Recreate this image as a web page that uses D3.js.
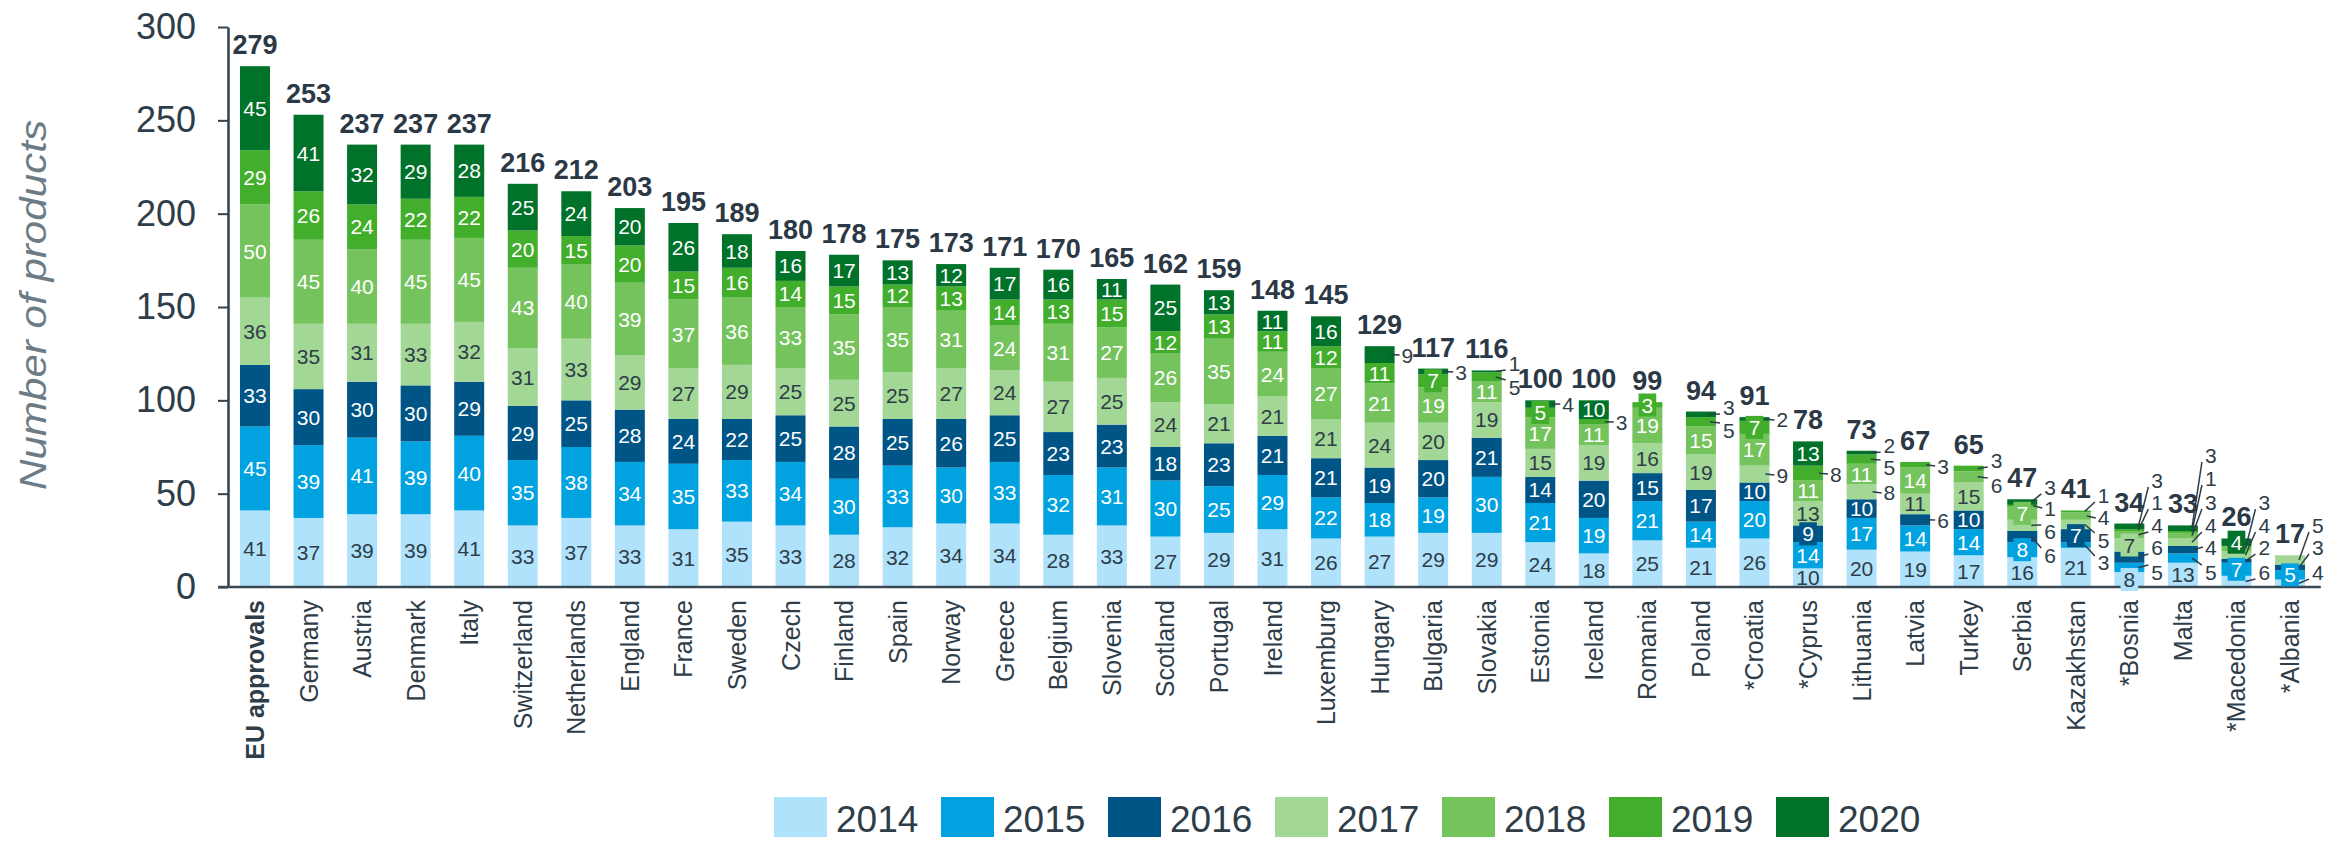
<!DOCTYPE html>
<html>
<head>
<meta charset="utf-8">
<script src="https://cdn.jsdelivr.net/npm/d3@7"></script>
<style>
  html, body { margin: 0; padding: 0; background: #ffffff; }
  svg { display: block; font-family: "Liberation Sans", Arial, sans-serif; }
</style>
</head>
<body>
<svg id="chart" width="2341" height="842"></svg>
<script>
// ---------------- DATA ----------------
const categories = ["EU approvals","Germany","Austria","Denmark","Italy","Switzerland","Netherlands","England","France","Sweden","Czech","Finland","Spain","Norway","Greece","Belgium","Slovenia","Scotland","Portugal","Ireland","Luxemburg","Hungary","Bulgaria","Slovakia","Estonia","Iceland","Romania","Poland","*Croatia","*Cyprus","Lithuania","Latvia","Turkey","Serbia","Kazakhstan","*Bosnia","Malta","*Macedonia","*Albania"];
const years = ["2014","2015","2016","2017","2018","2019","2020"];
const v2014 = [41,37,39,39,41,33,37,33,31,35,33,28,32,34,34,28,33,27,29,31,26,27,29,29,24,18,25,21,26,10,20,19,17,16,21,8,13,6,4];
const v2015 = [45,39,41,39,40,35,38,34,35,33,34,30,33,30,33,32,31,30,25,29,22,18,19,30,21,19,21,14,20,14,17,14,14,8,3,5,5,7,5];
const v2016 = [33,30,30,30,29,29,25,28,24,22,25,28,25,26,25,23,23,18,23,21,21,19,20,21,14,20,15,17,10,9,10,6,10,6,7,6,4,2,3];
const v2017 = [36,35,31,33,32,31,33,29,27,29,25,25,25,27,24,27,25,24,21,21,21,24,20,19,15,19,16,19,9,13,8,11,15,6,5,7,4,4,5];
const v2018 = [50,45,40,45,45,43,40,39,37,36,33,35,35,31,24,31,27,26,35,24,27,21,19,11,17,11,19,15,17,11,11,14,6,7,4,4,3,3,0];
const v2019 = [29,26,24,22,22,20,15,20,15,16,14,15,12,13,14,13,15,12,13,11,12,11,7,5,5,3,3,5,7,8,5,3,3,1,1,1,1,0,0];
const v2020 = [45,41,32,29,28,25,24,20,26,18,16,17,13,12,17,16,11,25,13,11,16,9,3,1,4,10,0,3,2,13,2,0,0,3,0,3,3,4,0];
const yTicks = [0,50,100,150,200,250,300];
const yTitle = "Number of products";

// small values drawn inside the bar on a coloured label box
const boxedLabels = [["Bulgaria","2019"],["Estonia","2019"],["Romania","2019"],["*Croatia","2019"],["*Cyprus","2016"],["Serbia","2015"],["Serbia","2018"],["Kazakhstan","2016"],["*Bosnia","2014"],["*Bosnia","2017"],["*Macedonia","2015"],["*Macedonia","2020"],["*Albania","2015"]];
// small values drawn beside the bar with a leader line; third item = label height on the value axis
const calloutLabels = [
  ["Hungary","2020",124.3],["Bulgaria","2020",115.2],["Slovakia","2020",120.0],["Slovakia","2019",107.1],
  ["Estonia","2020",98.0],["Iceland","2019",88.4],["Poland","2020",96.4],["Poland","2019",84.1],
  ["*Croatia","2020",89.5],["*Croatia","2017",60.0],["*Cyprus","2019",60.5],
  ["Lithuania","2020",76.0],["Lithuania","2019",64.3],["Lithuania","2017",50.4],
  ["Latvia","2019",64.8],["Latvia","2016",35.9],["Turkey","2019",68.0],["Turkey","2018",54.6],
  ["Serbia","2020",53.6],["Serbia","2019",42.3],["Serbia","2017",29.5],["Serbia","2016",17.1],
  ["Kazakhstan","2019",49.3],["Kazakhstan","2018",37.0],["Kazakhstan","2017",25.2],["Kazakhstan","2015",12.9],
  ["*Bosnia","2020",57.3],["*Bosnia","2019",45.5],["*Bosnia","2018",33.2],["*Bosnia","2016",21.4],["*Bosnia","2015",8.0],
  ["Malta","2020",70.7],["Malta","2019",58.4],["Malta","2018",45.5],["Malta","2017",33.2],["Malta","2016",21.4],["Malta","2015",8.0],
  ["*Macedonia","2018",45.5],["*Macedonia","2017",33.2],["*Macedonia","2016",21.4],["*Macedonia","2014",8.0],
  ["*Albania","2017",33.2],["*Albania","2016",21.4],["*Albania","2014",8.0]
];

// ---------------- STYLE ----------------
const colors = ["#b0e2fb","#00a3e0","#005587","#a3d795","#74c35d","#43ae2c","#007229"];
const labelColors = ["#2e3d48","#ffffff","#ffffff","#2e3d48","#ffffff","#ffffff","#ffffff"];
const textDark = "#2e3d48";

const seriesArrays = [v2014,v2015,v2016,v2017,v2018,v2019,v2020];
const rows = categories.map((c,i) => {
  const r = {cat: c};
  years.forEach((y,k) => r[y] = seriesArrays[k][i]);
  r.total = years.reduce((s,y) => s + r[y], 0);
  return r;
});

const svg = d3.select("#chart");
svg.append("rect").attr("width",2341).attr("height",842).attr("fill","#fff");

const x = d3.scaleBand().domain(categories).range([228.2, 2316.8]).paddingInner(0.44).paddingOuter(0.22);
const y = d3.scaleLinear().domain([0,300]).range([587,27]);
const color = d3.scaleOrdinal().domain(years).range(colors);

const stacked = d3.stack().keys(years)(rows);

// axes
const yAxis = svg.append("g").attr("transform","translate(228,0)")
  .call(d3.axisLeft(y).tickValues(yTicks).tickSize(10).tickSizeOuter(0).tickPadding(22));
yAxis.select(".domain").attr("stroke","#33414c").attr("stroke-width",2.5);
yAxis.selectAll(".tick line").attr("stroke","#33414c").attr("stroke-width",2);
yAxis.selectAll(".tick text").attr("font-size",36).attr("fill",textDark).attr("font-family","Liberation Sans, Arial, sans-serif");

svg.append("text")
  .attr("transform","translate(36,305) rotate(-90)")
  .attr("text-anchor","middle").attr("dominant-baseline","middle")
  .attr("font-size",37).attr("font-style","italic").attr("fill","#6d7b85")
  .attr("textLength",370).attr("lengthAdjust","spacingAndGlyphs")
  .text(yTitle);

// bars
const gBars = svg.append("g");
stacked.forEach((layer) => {
  gBars.append("g").attr("fill", color(layer.key))
    .selectAll("rect").data(layer).join("rect")
    .attr("x", d => x(d.data.cat))
    .attr("width", x.bandwidth())
    .attr("y", d => y(d[1]))
    .attr("height", d => Math.max(0, y(d[0]) - y(d[1])));
});

// x axis line
svg.append("line")
  .attr("x1", x.range()[0] - 10).attr("x2", x.range()[1] + 4)
  .attr("y1", y(0)).attr("y2", y(0))
  .attr("stroke","#3b4954").attr("stroke-width",2.5);

// segment labels
const isBoxed = (c,k) => boxedLabels.some(b => b[0]===c && b[1]===k);
const callout = (c,k) => calloutLabels.find(b => b[0]===c && b[1]===k);
const gLab = svg.append("g").attr("font-size",21);
stacked.forEach((layer, li) => {
  layer.forEach(d => {
    const v = d[1]-d[0];
    if (v <= 0) return;
    const cat = d.data.cat;
    const cx = x(cat) + x.bandwidth()/2;
    const cy = (y(d[0]) + y(d[1]))/2;
    const co = callout(cat, layer.key);
    if (co) {
      const right = x(cat) + x.bandwidth();
      const ly = y(co[2]);
      const dyv = ly - cy;
      let x1 = right - 4, y1 = cy, x2 = right + 5, y2 = ly;
      if (Math.abs(dyv) > 4) { x1 = right - 6; y2 = ly - Math.sign(dyv)*7; x2 = right + 4; }
      gLab.append("line").attr("x1",x1).attr("y1",y1).attr("x2",x2).attr("y2",y2)
        .attr("stroke","#2e3d48").attr("stroke-width",1.5);
      gLab.append("text").attr("x", right + 7).attr("y", ly).attr("dy","0.36em")
        .attr("fill",textDark).text(v);
      return;
    }
    const g = gLab.append("g");
    const t = g.append("text").attr("x",cx).attr("y",cy).attr("dy","0.36em")
      .attr("text-anchor","middle").attr("fill",labelColors[li]).text(v);
    if (isBoxed(cat, layer.key)) {
      const w = t.node().getComputedTextLength() + 6;
      g.insert("rect","text").attr("x",cx - w/2).attr("y",cy - 11.5).attr("width",w).attr("height",23)
        .attr("fill", color(layer.key));
    }
  });
});

// totals
svg.append("g").selectAll("text").data(rows).join("text")
  .attr("x", d => x(d.cat) + x.bandwidth()/2)
  .attr("y", d => y(d.total) - 12)
  .attr("text-anchor","middle").attr("font-size",27).attr("font-weight","bold")
  .attr("fill","#2b3845").text(d => d.total);

// category labels
svg.append("g").selectAll("text").data(categories).join("text")
  .attr("transform", d => `translate(${x(d) + x.bandwidth()/2},600) rotate(-90)`)
  .attr("text-anchor","end").attr("dy","0.36em")
  .attr("font-size",25).attr("fill",textDark)
  .attr("font-weight", (d,i) => i===0 ? "bold" : "normal")
  .text(d => d);

// legend
const leg = svg.append("g").selectAll("g").data(years).join("g")
  .attr("transform",(d,i) => `translate(${774 + i*167},797)`);
leg.append("rect").attr("width",53).attr("height",40).attr("fill", d => color(d));
leg.append("text").attr("x",62).attr("y",35).attr("font-size",37).attr("fill",textDark).text(d => d);
</script>
</body>
</html>
